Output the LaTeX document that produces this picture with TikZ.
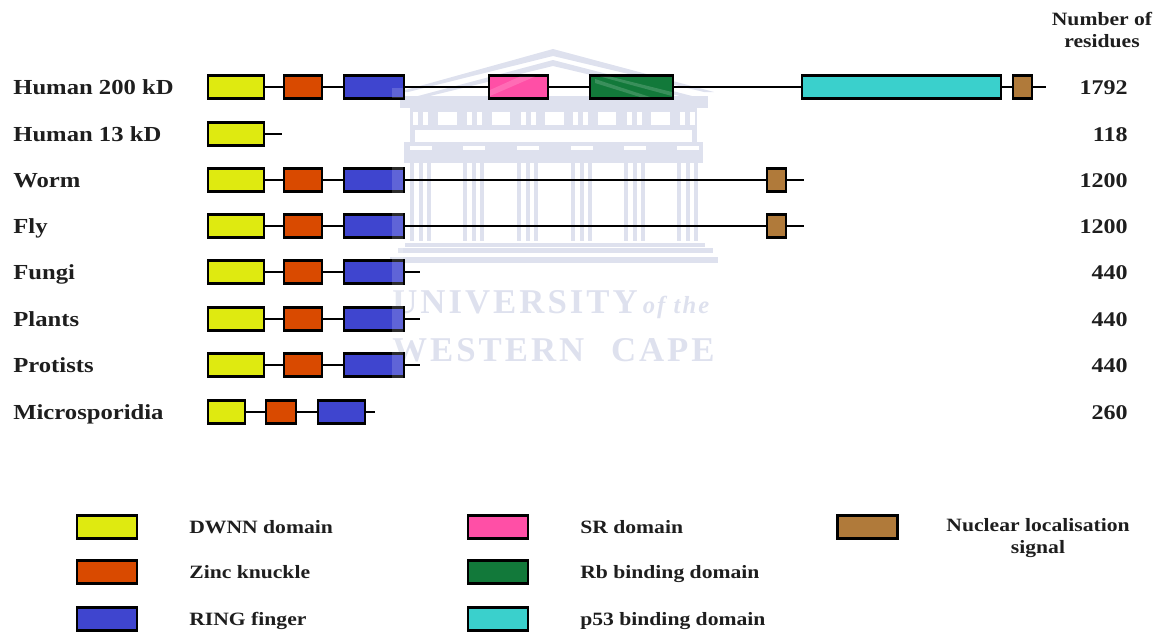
\documentclass[tikz,border=0pt]{standalone}
\usepackage{xcolor}
\usepackage{fontspec}
\usepackage{tikz}
\usetikzlibrary{positioning}
\setmainfont{Liberation Serif}[FakeStretch=1.15]
\newfontfamily\crestfont{Liberation Serif}[LetterSpace=8.6]
\definecolor{dwnnyellow}{RGB}{223,234,16}
\definecolor{zincorange}{RGB}{217,74,0}
\definecolor{ringblue}{RGB}{63,69,207}
\definecolor{srpink}{RGB}{255,79,166}
\definecolor{rbgreen}{RGB}{18,121,58}
\definecolor{tealdomain}{RGB}{58,208,204}
\definecolor{nlsbrown}{RGB}{176,122,58}
\definecolor{crest}{RGB}{222,225,238}
\definecolor{inkdark}{RGB}{30,30,30}
\newcommand{\templecolumn}[1]{
  \fill (#1,-3.26) rectangle ++(0.42,-1.56);
  \fill[white] (#1+0.08,-3.26) rectangle ++(0.09,-1.56);
  \fill[white] (#1+0.25,-3.26) rectangle ++(0.09,-1.56);
  \fill[white] (#1,-2.92) rectangle ++(0.44,-0.08);
}
\newcommand{\friezeslits}[1]{
  \fill[white] (#1,-2.24) rectangle ++(0.1,-0.26);
  \fill[white] (#1+0.2,-2.24) rectangle ++(0.1,-0.26);
}
\newcommand{\temple}{
  \fill (7.96,-1.84) -- (11.06,-0.98) -- (14.28,-1.84) -- (14.08,-1.84) -- (11.06,-1.12) -- (8.16,-1.84) -- cycle;
  \fill (8.36,-1.92) -- (11.06,-1.2) -- (13.84,-1.92) -- (13.6,-1.92) -- (11.06,-1.32) -- (8.6,-1.92) -- cycle;
  \fill (8,-1.92) rectangle (14.16,-2.16);
  \fill (8.2,-2.16) rectangle (13.94,-2.6);
  \friezeslits{8.26}
  \friezeslits{9.34}
  \friezeslits{10.42}
  \friezeslits{11.46}
  \friezeslits{12.54}
  \friezeslits{13.6}
  \fill[white] (8.76,-2.24) rectangle (9.14,-2.5);
  \fill[white] (9.84,-2.24) rectangle (10.2,-2.5);
  \fill[white] (10.9,-2.24) rectangle (11.28,-2.5);
  \fill[white] (11.96,-2.24) rectangle (12.32,-2.5);
  \fill[white] (13.02,-2.24) rectangle (13.4,-2.5);
  \fill (8.2,-2.6) rectangle (8.3,-2.84);
  \fill (13.84,-2.6) rectangle (13.94,-2.84);
  \fill (8.08,-2.84) rectangle (14.06,-3.26);
  \templecolumn{8.2}
  \templecolumn{9.26}
  \templecolumn{10.34}
  \templecolumn{11.42}
  \templecolumn{12.48}
  \templecolumn{13.54}
  \fill (8.1,-4.86) rectangle (14.1,-4.94);
  \fill (7.96,-4.96) rectangle (14.26,-5.06);
  \fill (7.8,-5.14) rectangle (14.36,-5.26);
}
\tikzset{
  domainbox/.style={
    draw=black,
    line width=1.5pt,
    inner sep=0pt,
    outer sep=0pt,
    minimum height=0.46cm
  },
  dwnn/.style={domainbox, fill=dwnnyellow, minimum width=1.12cm},
  zinc/.style={domainbox, fill=zincorange, minimum width=0.76cm},
  ringbox/.style={domainbox, fill=ringblue, minimum width=1.2cm},
  nls/.style={domainbox, fill=nlsbrown, minimum width=0.38cm},
  keybox/.style={domainbox, minimum width=1.2cm},
  backbone/.style={line width=1.4pt, draw=black},
  crestwash/.style={white, opacity=0.17},
  rowlabel/.style={font=\fontsize{12.2}{14}\selectfont\bfseries, text=inkdark, anchor=west, inner sep=0pt, text height=9pt, text depth=1pt},
  residues/.style={font=\fontsize{11.9}{14}\selectfont\bfseries, text=inkdark, anchor=east, inner sep=0pt, text height=9pt, text depth=1pt},
  keylabel/.style={font=\fontsize{10.7}{12.5}\selectfont\bfseries, text=inkdark, anchor=west, inner sep=0pt, text height=8.2pt, text depth=0.5pt},
  headlabel/.style={font=\fontsize{10.7}{12.5}\selectfont\bfseries, text=inkdark, align=center, inner sep=0pt},
  crestlabel/.style={font=\fontsize{19.8}{24}\crestfont\bfseries, text=crest, anchor=base west, inner sep=0pt}
}
\begin{document}
\begin{tikzpicture}
  \useasboundingbox (0,0) rectangle (23.24,-12.64);

  % university crest behind the rows
  \begin{scope}[crest]
    \temple
  \end{scope}
  \node[crestlabel] (crestone) at (7.84,-6.26) {UNIVERSITY\hspace{0.1cm}{\fontsize{14}{14}\selectfont\itshape of the}};
  \node[crestlabel] (cresttwo) at (7.84,-7.22) {WESTERN\hspace{0.3cm} CAPE};

  \node[headlabel] (head) at (22.04,-0.6) {Number of\\[0.5pt]residues};

  % Human 200 kD
  \node[rowlabel] (humlabel) at (0.26,-1.74) {Human 200 kD};
  \node[dwnn, anchor=west] (humdwnn) at (4.16,-1.74) {};
  \node[zinc, right=0.4cm of humdwnn] (humzinc) {};
  \node[ringbox, right=0.44cm of humzinc] (humring) {};
  \node[domainbox, fill=srpink, minimum width=1.18cm, right=1.7cm of humring] (humsr) {};
  \node[domainbox, fill=rbgreen, minimum width=1.66cm, right=0.84cm of humsr] (humrb) {};
  \node[domainbox, fill=tealdomain, minimum width=3.98cm, right=2.58cm of humrb] (humpf) {};
  \node[nls, right=0.24cm of humpf] (humnls) {};
  \coordinate[right=0.28cm of humnls] (humend);
  \node[residues] (humres) at (22.56,-1.74) {1792};
  \draw[backbone] (humdwnn) -- (humzinc);
  \draw[backbone] (humzinc) -- (humring);
  \draw[backbone] (humring) -- (humsr);
  \draw[backbone] (humsr) -- (humrb);
  \draw[backbone] (humrb) -- (humpf);
  \draw[backbone] (humpf) -- (humnls);
  \draw[backbone] (humnls) -- (humend);

  % Human 13 kD
  \node[rowlabel] (smalllabel) at (0.26,-2.68) {Human 13 kD};
  \node[dwnn, anchor=west] (smalldwnn) at (4.16,-2.68) {};
  \coordinate[right=0.36cm of smalldwnn] (smallend);
  \node[residues] (smallres) at (22.56,-2.68) {118};
  \draw[backbone] (smalldwnn) -- (smallend);

  % Worm
  \node[rowlabel] (wormlabel) at (0.26,-3.6) {Worm};
  \node[dwnn, anchor=west] (wormdwnn) at (4.16,-3.6) {};
  \node[zinc, right=0.4cm of wormdwnn] (wormzinc) {};
  \node[ringbox, right=0.44cm of wormzinc] (wormring) {};
  \node[nls, right=7.26cm of wormring] (wormnls) {};
  \coordinate[right=0.36cm of wormnls] (wormend);
  \node[residues] (wormres) at (22.56,-3.6) {1200};
  \draw[backbone] (wormdwnn) -- (wormzinc);
  \draw[backbone] (wormzinc) -- (wormring);
  \draw[backbone] (wormring) -- (wormnls);
  \draw[backbone] (wormnls) -- (wormend);

  % Fly
  \node[rowlabel] (flylabel) at (0.26,-4.52) {Fly};
  \node[dwnn, anchor=west] (flydwnn) at (4.16,-4.52) {};
  \node[zinc, right=0.4cm of flydwnn] (flyzinc) {};
  \node[ringbox, right=0.44cm of flyzinc] (flyring) {};
  \node[nls, right=7.26cm of flyring] (flynls) {};
  \coordinate[right=0.36cm of flynls] (flyend);
  \node[residues] (flyres) at (22.56,-4.52) {1200};
  \draw[backbone] (flydwnn) -- (flyzinc);
  \draw[backbone] (flyzinc) -- (flyring);
  \draw[backbone] (flyring) -- (flynls);
  \draw[backbone] (flynls) -- (flyend);

  % Fungi
  \node[rowlabel] (fungilabel) at (0.26,-5.44) {Fungi};
  \node[dwnn, anchor=west] (fungidwnn) at (4.16,-5.44) {};
  \node[zinc, right=0.4cm of fungidwnn] (fungizinc) {};
  \node[ringbox, right=0.44cm of fungizinc] (fungiring) {};
  \coordinate[right=0.32cm of fungiring] (fungiend);
  \node[residues] (fungires) at (22.56,-5.44) {440};
  \draw[backbone] (fungidwnn) -- (fungizinc);
  \draw[backbone] (fungizinc) -- (fungiring);
  \draw[backbone] (fungiring) -- (fungiend);

  % Plants
  \node[rowlabel] (plantlabel) at (0.26,-6.38) {Plants};
  \node[dwnn, anchor=west] (plantdwnn) at (4.16,-6.38) {};
  \node[zinc, right=0.4cm of plantdwnn] (plantzinc) {};
  \node[ringbox, right=0.44cm of plantzinc] (plantring) {};
  \coordinate[right=0.32cm of plantring] (plantend);
  \node[residues] (plantres) at (22.56,-6.38) {440};
  \draw[backbone] (plantdwnn) -- (plantzinc);
  \draw[backbone] (plantzinc) -- (plantring);
  \draw[backbone] (plantring) -- (plantend);

  % Protists
  \node[rowlabel] (protlabel) at (0.26,-7.3) {Protists};
  \node[dwnn, anchor=west] (protdwnn) at (4.16,-7.3) {};
  \node[zinc, right=0.4cm of protdwnn] (protzinc) {};
  \node[ringbox, right=0.44cm of protzinc] (protring) {};
  \coordinate[right=0.32cm of protring] (protend);
  \node[residues] (protres) at (22.56,-7.3) {440};
  \draw[backbone] (protdwnn) -- (protzinc);
  \draw[backbone] (protzinc) -- (protring);
  \draw[backbone] (protring) -- (protend);

  % Microsporidia
  \node[rowlabel] (microlabel) at (0.26,-8.24) {Microsporidia};
  \node[dwnn, minimum width=0.74cm, anchor=west] (microdwnn) at (4.16,-8.24) {};
  \node[zinc, minimum width=0.6cm, right=0.42cm of microdwnn] (microzinc) {};
  \node[ringbox, minimum width=0.94cm, right=0.44cm of microzinc] (microring) {};
  \coordinate[right=0.2cm of microring] (microend);
  \node[residues] (microres) at (22.56,-8.24) {260};
  \draw[backbone] (microdwnn) -- (microzinc);
  \draw[backbone] (microzinc) -- (microring);
  \draw[backbone] (microring) -- (microend);

  % crest showing through the boxes
  \fill[crestwash] (7.84,-1.76) rectangle (8.06,-1.96);
  \fill[crestwash] (7.84,-3.3) rectangle (8.06,-7.56);
  \fill[crestwash] (9.8,-1.8) -- (10.4,-1.53) -- (10.7,-1.53) -- (9.8,-1.92) -- cycle;
  \fill[crestwash] (11.9,-1.58) -- (13,-1.94) -- (12.8,-1.94) -- (11.9,-1.66) -- cycle;
  \fill[crestwash] (12.2,-1.53) -- (13.44,-1.84) -- (13.44,-1.92) -- (12,-1.53) -- cycle;

  % key
  \node[keybox, fill=dwnnyellow] (keydwnn) at (2.14,-10.54) {};
  \node[keybox, fill=zincorange] (keyzinc) at (2.14,-11.44) {};
  \node[keybox, fill=ringblue] (keyring) at (2.14,-12.38) {};
  \node[keylabel] (labeldwnn) at (3.78,-10.54) {DWNN domain};
  \node[keylabel] (labelzinc) at (3.78,-11.44) {Zinc knuckle};
  \node[keylabel] (labelring) at (3.78,-12.38) {RING finger};
  \node[keybox, fill=srpink] (keysr) at (9.96,-10.54) {};
  \node[keybox, fill=rbgreen] (keyrb) at (9.96,-11.44) {};
  \node[keybox, fill=tealdomain] (keypf) at (9.96,-12.38) {};
  \node[keylabel] (labelsr) at (11.6,-10.54) {SR domain};
  \node[keylabel] (labelrb) at (11.6,-11.44) {Rb binding domain};
  \node[keylabel] (labelpf) at (11.6,-12.38) {p53 binding domain};
  \node[keybox, fill=nlsbrown] (keynls) at (17.35,-10.54) {};
  \node[headlabel] (labelnls) at (20.76,-10.76) {Nuclear localisation\\[0.5pt]signal};
\end{tikzpicture}
\end{document}
